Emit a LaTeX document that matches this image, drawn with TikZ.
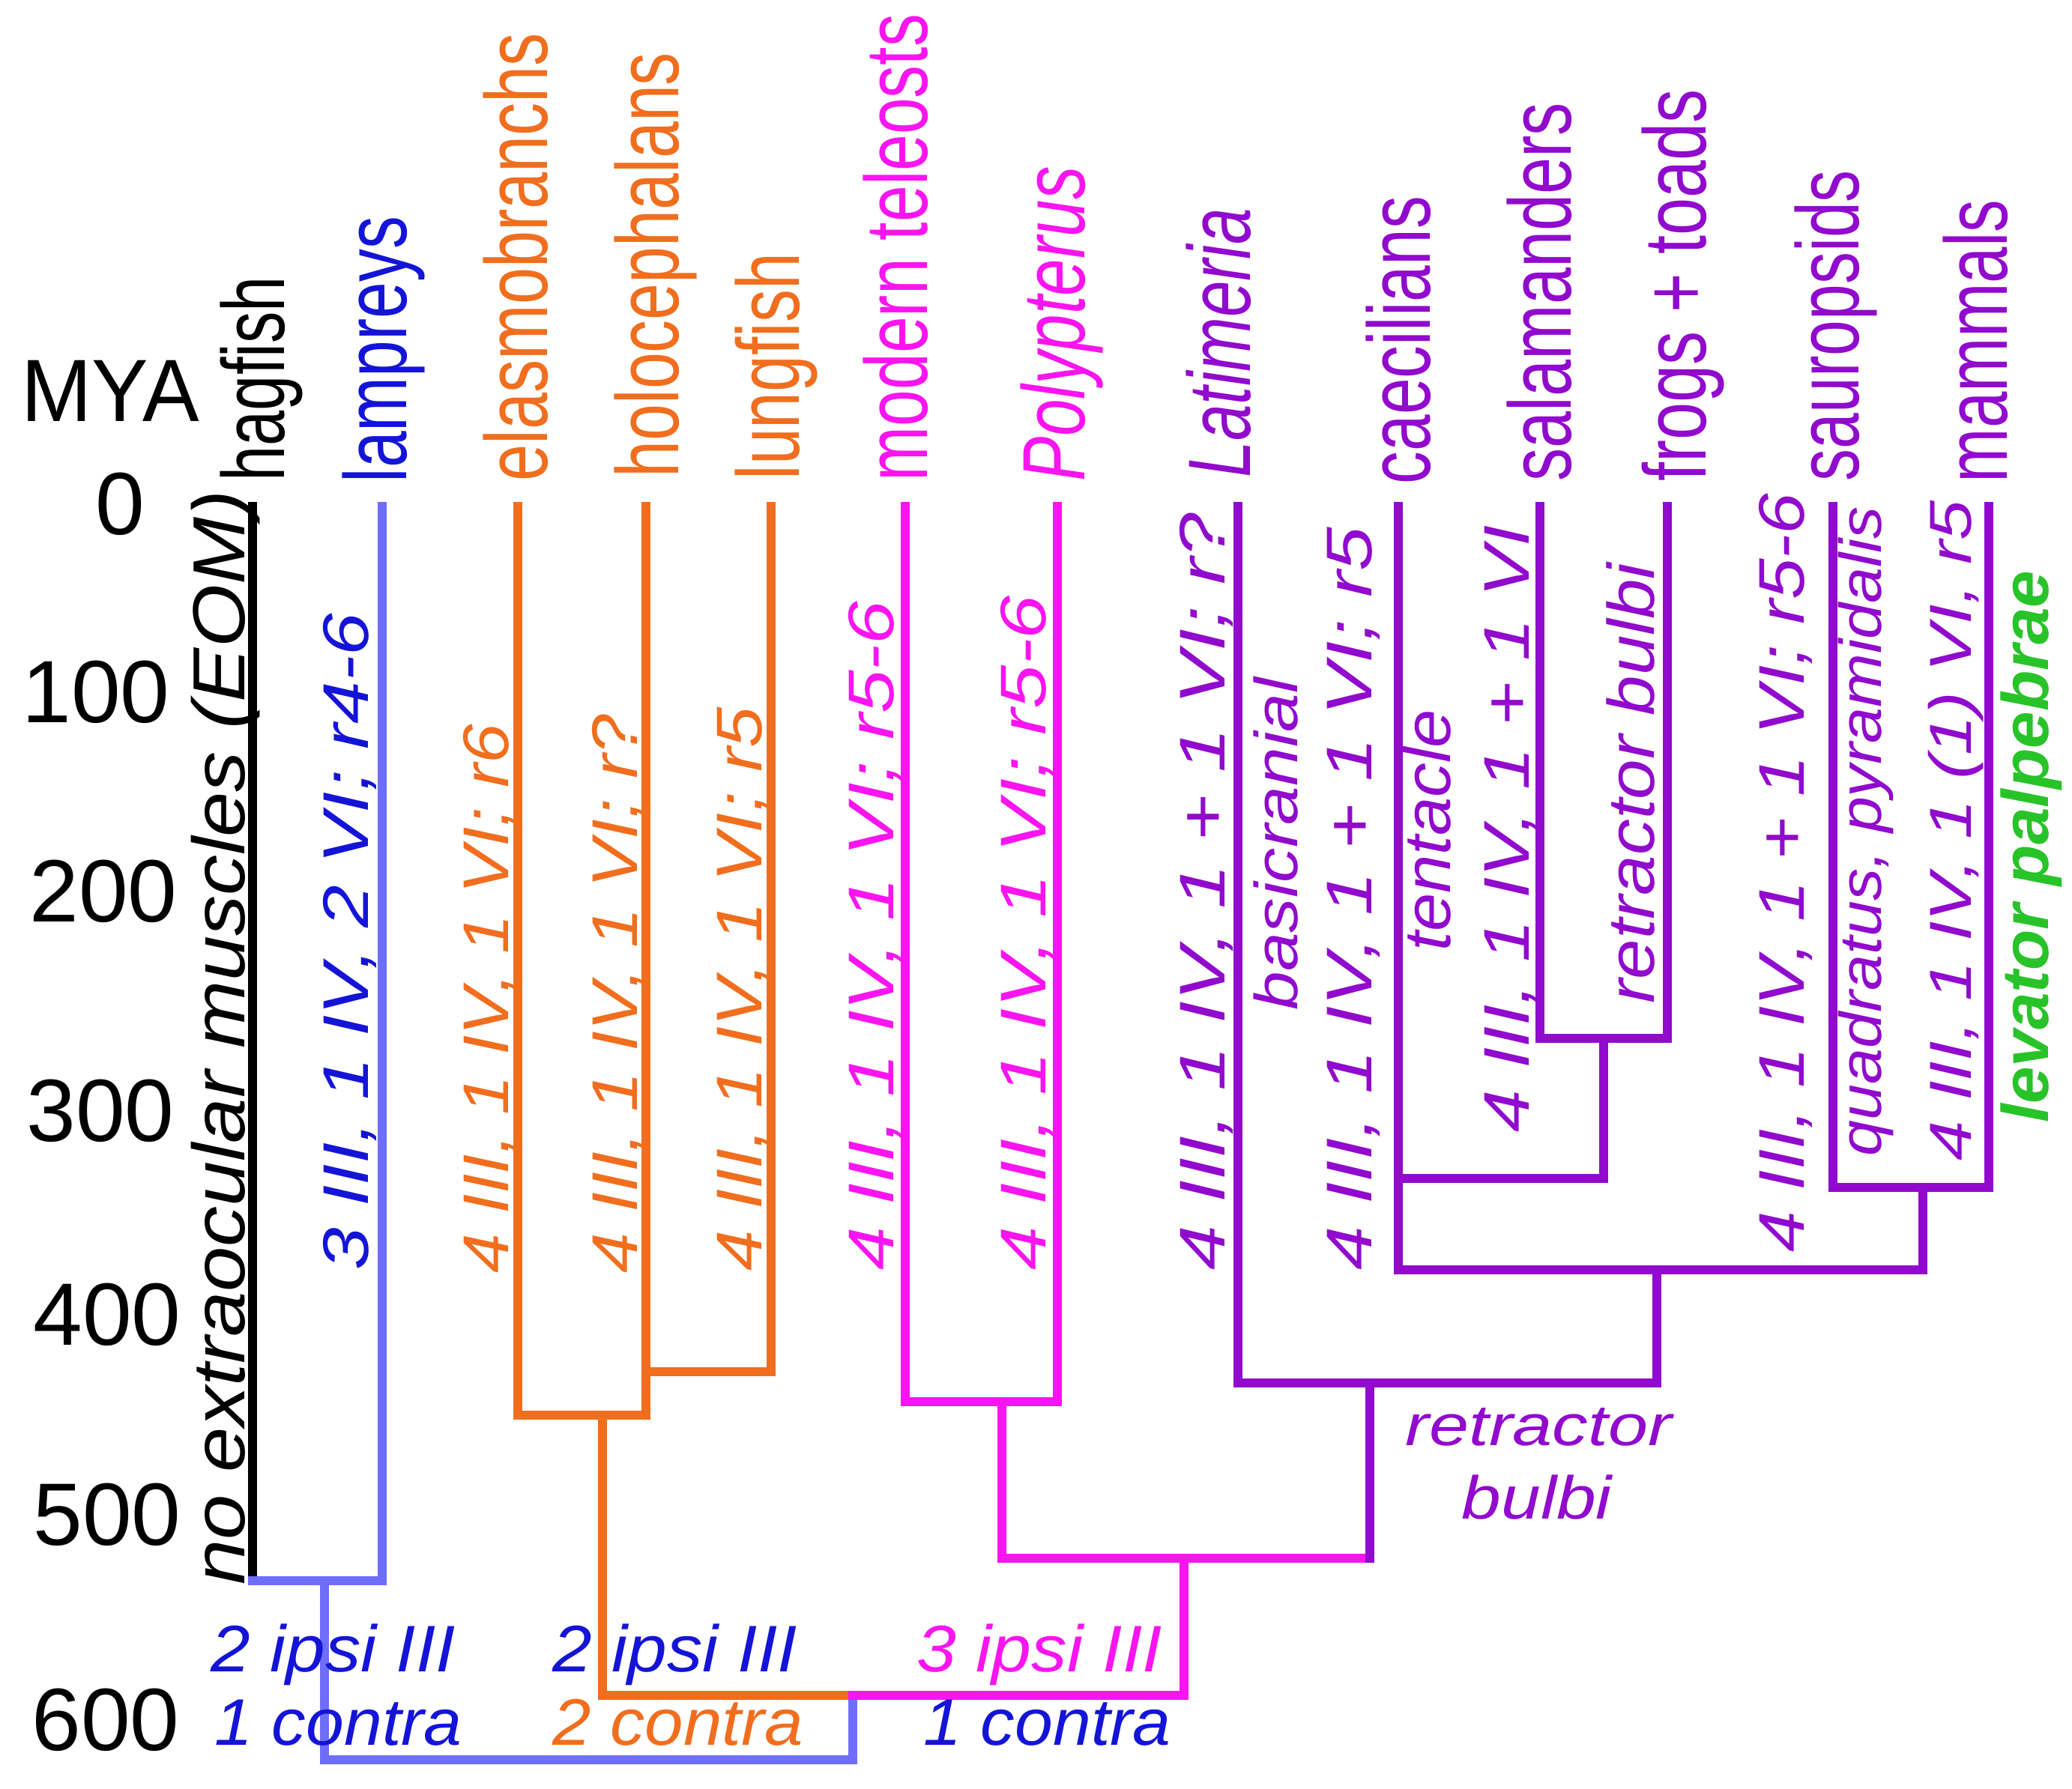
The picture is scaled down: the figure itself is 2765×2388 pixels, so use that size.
\documentclass[tikz,border=0pt]{standalone}
\usepackage{fontspec}
\usepackage{graphicx}
\setmainfont{Liberation Sans}
\newcommand\fitw[2]{\resizebox{#1}{\height}{#2}}
\definecolor{cblue}{RGB}{20,20,215}
\definecolor{clblue}{RGB}{110,110,250}
\definecolor{corange}{RGB}{240,110,30}
\definecolor{cmag}{RGB}{250,20,240}
\definecolor{cpurp}{RGB}{145,10,205}
\definecolor{cgreen}{RGB}{40,195,40}
\tikzset{
  tax/.style={rotate=90, anchor=base west, inner sep=0pt, font=\fontsize{33.6pt}{33.6pt}\selectfont},
  annv/.style={rotate=90, anchor=base west, inner sep=0pt, font=\itshape\fontsize{#1pt}{#1pt}\selectfont},
  annh/.style={anchor=base west, inner sep=0pt, font=\itshape\fontsize{#1pt}{#1pt}\selectfont},
  num/.style={inner sep=0pt, font=\fontsize{33.6pt}{33.6pt}\selectfont},
  branch/.style={line width=0.12cm, line join=miter, line cap=rect, draw=#1}
}
\begin{document}
\begin{tikzpicture}[x=0.01cm, y=-0.01cm]
\useasboundingbox[fill=white] (0,0) rectangle (2765,2388);
% ---------- coordinates ----------
\coordinate (hagT) at (337,676); \coordinate (hagB) at (337,2110);
\coordinate (lamT) at (510,676); \coordinate (lamB) at (510,2110);
\coordinate (cycJ) at (433,2110); \coordinate (cycR) at (433,2349);
\coordinate (cycE) at (1138,2349); \coordinate (gnaJ) at (1138,2263);
\coordinate (elaT) at (691,676); \coordinate (elaB) at (691,1889);
\coordinate (holT) at (862,676); \coordinate (holB) at (862,1889);
\coordinate (holL) at (862,1831);
\coordinate (lunT) at (1029,676); \coordinate (lunB) at (1029,1831);
\coordinate (chJ) at (804,1889); \coordinate (chB) at (804,2263);
\coordinate (telT) at (1208,676); \coordinate (telB) at (1208,1871);
\coordinate (polT) at (1411,676); \coordinate (polB) at (1411,1871);
\coordinate (actJ) at (1337,1871); \coordinate (actB) at (1337,2080);
\coordinate (sarJ) at (1828,2080); \coordinate (osJ) at (1580,2080);
\coordinate (osB) at (1580,2263);
\coordinate (sarT) at (1828,1846);
\coordinate (latT) at (1652,676); \coordinate (latB) at (1652,1846);
\coordinate (tetJ) at (2211,1846); \coordinate (tetT) at (2211,1695);
\coordinate (caeT) at (1866,676); \coordinate (caeB) at (1866,1695);
\coordinate (amnJ) at (2566,1695); \coordinate (amnT) at (2566,1585);
\coordinate (liJ) at (1866,1573); \coordinate (batJ) at (2140,1573);
\coordinate (batT) at (2140,1386);
\coordinate (salT) at (2055,676); \coordinate (salB) at (2055,1386);
\coordinate (froT) at (2225,676); \coordinate (froB) at (2225,1386);
\coordinate (sauT) at (2446,676); \coordinate (sauB) at (2446,1585);
\coordinate (mamT) at (2654,676); \coordinate (mamB) at (2654,1585);
% ---------- branches ----------
\draw[branch=black] (hagT) -- (hagB);
\draw[branch=clblue] (lamT) -- (lamB) -- (hagB);
\draw[branch=clblue] (cycJ) -- (cycR) -- (cycE) -- (gnaJ);
\draw[branch=corange] (elaT) -- (elaB) -- (holB) -- (holT);
\draw[branch=corange] (lunT) -- (lunB) -- (holL);
\draw[branch=corange] (chJ) -- (chB) -- (gnaJ);
\draw[branch=cmag] (telT) -- (telB) -- (polB) -- (polT);
\draw[branch=cmag] (actJ) -- (actB) -- (sarJ);
\draw[branch=cmag] (osJ) -- (osB) -- (gnaJ);
\draw[branch=cpurp] (sarJ) -- (sarT);
\draw[branch=cpurp] (latT) -- (latB) -- (tetJ) -- (tetT);
\draw[branch=cpurp] (caeT) -- (caeB) -- (amnJ) -- (amnT);
\draw[branch=cpurp] (liJ) -- (batJ) -- (batT);
\draw[branch=cpurp] (salT) -- (salB) -- (froB) -- (froT);
\draw[branch=cpurp] (sauT) -- (sauB) -- (mamB) -- (mamT);
% ---------- time axis ----------
\node[num] (mya) at (147,522) {\fitw{2.37cm}{MYA}};
\node[num] (t0) at (160,673) {0};
\node[num] (t100) at (128,924) {100};
\node[num] (t200) at (138,1190) {200};
\node[num] (t300) at (134,1483) {300};
\node[num] (t400) at (143,1755) {400};
\node[num] (t500) at (143,2022) {500};
\node[num] (t600) at (141,2296) {600};
% ---------- taxa ----------
\node[tax, text=black] (Lhag) at (379,643) {\fitw{2.73cm}{hagfish}};
\node[tax, text=cblue] (Llam) at (542,645) {\fitw{3.55cm}{lampreys}};
\node[tax, text=corange] (Lela) at (730,643) {\fitw{5.98cm}{elasmobranchs}};
\node[tax, text=corange] (Lhol) at (905,638) {\fitw{5.67cm}{holocephalans}};
\node[tax, text=corange] (Llun) at (1066,641) {\fitw{3.02cm}{lungfish}};
\node[tax, text=cmag] (Ltel) at (1237,643) {\fitw{6.23cm}{modern teleosts}};
\node[tax, text=cmag] (Lpol) at (1447,643) {\fitw{4.20cm}{\itshape Polypterus}};
\node[tax, text=cpurp] (Llat) at (1668,638) {\fitw{3.59cm}{\itshape Latimeria}};
\node[tax, text=cpurp] (Lcae) at (1908,647) {\fitw{3.84cm}{caecilians}};
\node[tax, text=cpurp] (Lsal) at (2096,643) {\fitw{5.05cm}{salamanders}};
\node[tax, text=cpurp] (Lfro) at (2276,643) {\fitw{5.23cm}{frogs + toads}};
\node[tax, text=cpurp] (Lsau) at (2480,643) {\fitw{4.15cm}{sauropsids}};
\node[tax, text=cpurp] (Lmam) at (2678,645) {\fitw{3.77cm}{mammals}};
% ---------- vertical annotations ----------
\node[annv=28, text=black] (Aeom) at (326,2116) {\fitw{14.60cm}{no extraocular muscles (EOM)}};
\node[annv=24.5, text=cblue] (Alam) at (491,1696) {\fitw{8.76cm}{3 III, 1 IV, 2 VI; r4-6}};
\node[annv=24.5, text=corange] (Aela) at (678,1700) {\fitw{7.32cm}{4 III, 1 IV, 1 VI; r6}};
\node[annv=24.5, text=corange] (Ahol) at (850,1700) {\fitw{7.45cm}{4 III, 1 IV, 1 VI; r?}};
\node[annv=24.5, text=corange] (Alun) at (1016,1697) {\fitw{7.52cm}{4 III, 1 IV, 1 VI; r5}};
\node[annv=24.5, text=cmag] (Atel) at (1192,1696) {\fitw{8.92cm}{4 III, 1 IV, 1 VI; r5-6}};
\node[annv=24.5, text=cmag] (Apol) at (1395,1696) {\fitw{9.00cm}{4 III, 1 IV, 1 VI; r5-6}};
\node[annv=24.5, text=cpurp] (Alat) at (1634,1696) {\fitw{10.10cm}{4 III, 1 IV, 1 + 1 VI; r?}};
\node[annv=23, text=cpurp] (Abas) at (1731,1349) {\fitw{4.43cm}{basicranial}};
\node[annv=24.5, text=cpurp] (Acae) at (1830,1696) {\fitw{9.91cm}{4 III, 1 IV, 1 + 1 VI; r5}};
\node[annv=25, text=cpurp] (Aten) at (1935,1270) {\fitw{3.22cm}{tentacle}};
\node[annv=24.5, text=cpurp] (Asal) at (2040,1512) {\fitw{8.10cm}{4 III, 1 IV, 1 + 1 VI}};
\node[annv=25, text=cpurp] (Aret) at (2207,1340) {\fitw{5.87cm}{retractor bulbi}};
\node[annv=24.5, text=cpurp] (Asau) at (2407,1672) {\fitw{10.12cm}{4 III, 1 IV, 1 + 1 VI; r5-6}};
\node[annv=22.5, text=cpurp] (Aqua) at (2510,1544) {\fitw{8.67cm}{quadratus, pyramidalis}};
\node[annv=22.5, text=cpurp] (Amam) at (2630,1550) {\fitw{8.80cm}{4 III, 1 IV, 1 (1) VI, r5}};
\node[annv=25, text=cgreen, font=\bfseries\itshape\fontsize{25pt}{25pt}\selectfont] (Alev) at (2733,1499) {\fitw{7.36cm}{levator palpebrae}};
% ---------- horizontal annotations ----------
\node[annh=22, text=cpurp] (Hret) at (1875,1929) {\fitw{3.55cm}{retractor}};
\node[annh=23, text=cpurp] (Hbul) at (1950,2027) {\fitw{2.00cm}{bulbi}};
\node[annh=25, text=cblue] (Hip1) at (281,2231) {\fitw{3.26cm}{2 ipsi III}};
\node[annh=25, text=cblue] (Hco1) at (286,2329) {\fitw{3.30cm}{1 contra}};
\node[annh=25, text=cblue] (Hip2) at (737,2231) {\fitw{3.26cm}{2 ipsi III}};
\node[annh=25, text=corange] (Hco2) at (737,2329) {\fitw{3.34cm}{2 contra}};
\node[annh=25, text=cmag] (Hip3) at (1223,2231) {\fitw{3.27cm}{3 ipsi III}};
\node[annh=25, text=cblue] (Hco3) at (1232,2329) {\fitw{3.30cm}{1 contra}};
\end{tikzpicture}
\end{document}
